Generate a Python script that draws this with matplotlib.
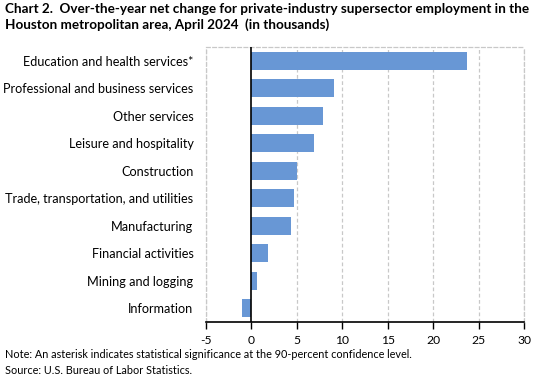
import matplotlib
matplotlib.use("Agg")
import matplotlib.pyplot as plt

categories = [
    "Education and health services*",
    "Professional and business services",
    "Other services",
    "Leisure and hospitality",
    "Construction",
    "Trade, transportation, and utilities",
    "Manufacturing",
    "Financial activities",
    "Mining and logging",
    "Information",
]
values = [23.7, 9.1, 7.9, 6.9, 5.0, 4.7, 4.4, 1.8, 0.6, -1.0]
xticks = [-5, 0, 5, 10, 15, 20, 25, 30]

plt.rcParams['font.family'] = ['Lato', 'DejaVu Sans']

fig = plt.figure(figsize=(5.36, 3.82), dpi=100)
ax = fig.add_axes([206/536, 1-322/382, 318/536, 275/382])

y = list(range(len(categories)))[::-1]
ax.barh(y, values, height=0.66, color='#6897d5', zorder=3)
ax.set_xlim(-5, 30)
ax.set_ylim(-0.5, len(categories)-0.5)
ax.set_xticks(xticks)
ax.set_xticklabels([str(t) for t in xticks], fontsize=8.7)
ax.set_yticks(y)
ax.set_yticklabels(categories, fontsize=9.1)
ax.tick_params(axis='y', length=0, pad=9)
ax.tick_params(axis='x', length=5, width=1, color='black', pad=4, direction='out')

for t in xticks:
    if t != 0:
        ax.axvline(t, color='#c8c8c8', linestyle=(0, (3, 2)), linewidth=0.9, zorder=1)
ax.axvline(0, color='black', linewidth=1.2, zorder=4)

for s in ['top', 'left', 'right']:
    ax.spines[s].set_color('#c8c8c8')
    ax.spines[s].set_linestyle((0, (3, 2)))
    ax.spines[s].set_linewidth(0.9)
ax.spines['bottom'].set_color('black')
ax.spines['bottom'].set_linewidth(1.2)

fig.text(5/536, 1-3/382, "Chart 2.  Over-the-year net change for private-industry supersector employment in the\nHouston metropolitan area, April 2024  (in thousands)",
         fontsize=9.7, fontweight='bold', va='top', ha='left', linespacing=1.3)
fig.text(5/536, 1-355/382, "Note: An asterisk indicates statistical significance at the 90-percent confidence level.",
         fontsize=7.8, va='center', ha='left')
fig.text(5/536, 1-371/382, "Source: U.S. Bureau of Labor Statistics.",
         fontsize=7.8, va='center', ha='left')

fig.savefig("out.png", dpi=100)
